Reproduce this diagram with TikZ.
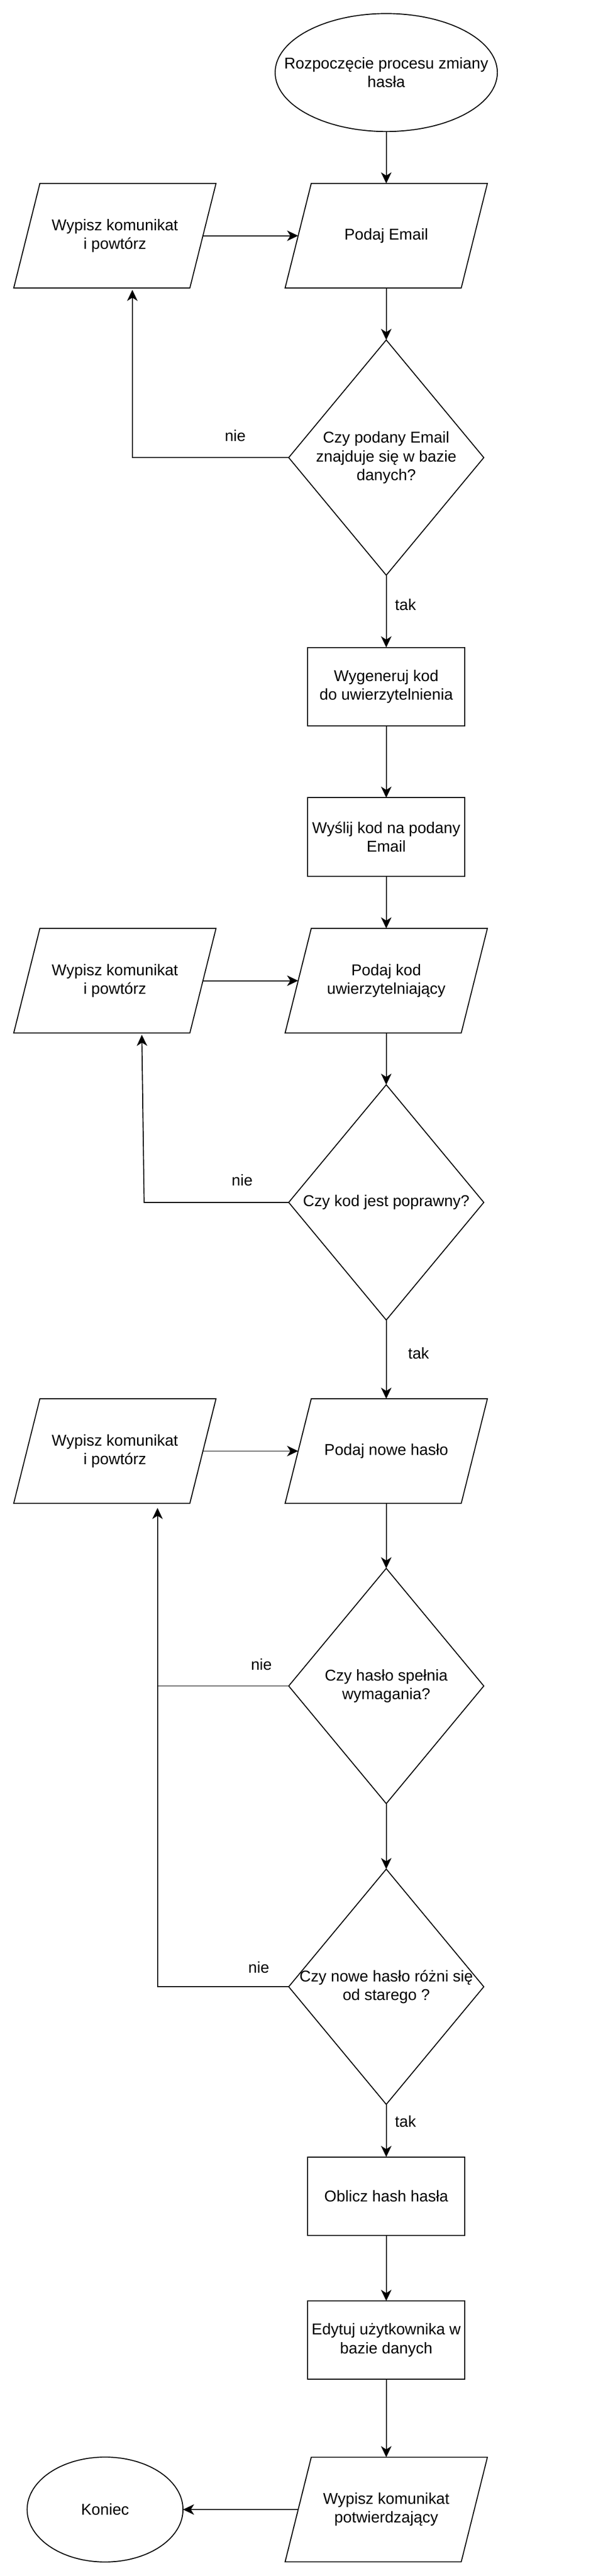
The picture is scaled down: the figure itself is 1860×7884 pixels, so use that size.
\documentclass[tikz,border=0pt]{standalone}
\usepackage{fontspec}
\setmainfont{Liberation Sans}
\usetikzlibrary{arrows.meta}
\tikzset{
  lbl/.style={font=\fontsize{24pt}{28.5pt}\selectfont, align=center, inner sep=0pt, outer sep=0pt},
  parabox/.style={lbl, minimum width=309.5pt, minimum height=160pt},
  diabox/.style={lbl, minimum width=298.5pt, minimum height=360pt},
  procbox/.style={lbl, draw, line width=1.5pt, minimum width=240pt, minimum height=120pt},
  outline/.style={draw, line width=1.5pt, line join=miter},
  conn/.style={line width=1.5pt},
  arr/.style={conn, -{Stealth[length=17pt,width=16pt,inset=5pt]}},
}
\newcommand\paraoutline[1]{\draw[outline] ([xshift=40pt]#1.north west) -- (#1.north east) -- ([xshift=-40pt]#1.south east) -- (#1.south west) -- cycle;}
\newcommand\diaoutline[1]{\draw[outline] (#1.north) -- (#1.east) -- (#1.south) -- (#1.west) -- cycle;}
\begin{document}
\begin{tikzpicture}[x=0.5pt,y=-0.5pt]
\useasboundingbox (0,0) rectangle (1860,7884);

% start
\node[lbl, minimum width=340pt, minimum height=180.5pt] (start) at (1182,222) {Rozpoczęcie procesu zmiany\\hasła};
\draw[outline] (start.center) ellipse [x radius=170pt, y radius=90.25pt];

% first block
\node[parabox] (p1) at (1182,721.5) {Podaj Email};
\paraoutline{p1}
\node[parabox] (w1) at (351.5,721.5) {Wypisz komunikat\\i powtórz};
\paraoutline{w1}
\node[diabox] (d1) at (1182,1400.5) {Czy podany Email\\znajduje się w bazie\\danych?};
\diaoutline{d1}
\node[procbox] (r1) at (1182,2101.5) {Wygeneruj kod\\do uwierzytelnienia};
\node[procbox] (r2) at (1182,2561.5) {Wyślij kod na podany\\Email};

% second block
\node[parabox] (p2) at (1182,3001.5) {Podaj kod\\uwierzytelniający};
\paraoutline{p2}
\node[parabox] (w2) at (351.5,3001.5) {Wypisz komunikat\\i powtórz};
\paraoutline{w2}
\node[diabox] (d2) at (1182,3680) {Czy kod jest poprawny?};
\diaoutline{d2}

% third block
\node[parabox] (p3) at (1182,4441) {Podaj nowe hasło};
\paraoutline{p3}
\node[parabox] (w3) at (351.5,4441) {Wypisz komunikat\\i powtórz};
\paraoutline{w3}
\node[diabox] (d3) at (1182,5160) {Czy hasło spełnia\\wymagania?};
\diaoutline{d3}
\node[diabox] (d4) at (1182,6080.5) {Czy nowe hasło różni się\\od starego ?};
\diaoutline{d4}
\node[procbox] (r3) at (1182,6721.5) {Oblicz hash hasła};
\node[procbox] (r4) at (1182,7162) {Edytuj użytkownika w\\bazie danych};
\node[parabox] (p4) at (1182,7680.5) {Wypisz komunikat\\potwierdzający};
\paraoutline{p4}
\node[lbl, minimum width=238.5pt, minimum height=160.5pt] (end) at (321.5,7680.5) {Koniec};
\draw[outline] (end.center) ellipse [x radius=119.25pt, y radius=80.25pt];

% labels
\node[lbl] (nie1) at (720,1333) {nie};
\node[lbl] (tak1) at (1241,1851) {tak};
\node[lbl] (nie2) at (741,3612) {nie};
\node[lbl] (tak2) at (1281,4142) {tak};
\node[lbl] (nie3) at (800,5094) {nie};
\node[lbl] (nie4) at (792,6021) {nie};
\node[lbl] (tak3) at (1241,6492) {tak};

% main flow
\draw[arr] (start.south) -- (p1.north);
\draw[arr] (p1.south) -- (d1.north);
\draw[arr] (d1.south) -- (r1.north);
\draw[arr] (r1.south) -- (r2.north);
\draw[arr] (r2.south) -- (p2.north);
\draw[arr] (p2.south) -- (d2.north);
\draw[arr] (d2.south) -- (p3.north);
\draw[arr] (p3.south) -- (d3.north);
\draw[arr] (d3.south) -- (d4.north);
\draw[arr] (d4.south) -- (r3.north);
\draw[arr] (r3.south) -- (r4.north);
\draw[arr] (r4.south) -- (p4.north);
\draw[arr] ([xshift=20pt]p4.west) -- (end.east);

% retry arrows
\draw[arr] ([xshift=-20pt]w1.east) -- ([xshift=20pt]p1.west);
\draw[arr] ([xshift=-20pt]w2.east) -- ([xshift=20pt]p2.west);
\draw[arr] ([xshift=-20pt]w3.east) -- ([xshift=20pt]p3.west);

% loops
\coordinate (t1) at (405,887);
\draw[arr] (d1.west) -| (t1);
\coordinate (b2) at (441,3680);
\coordinate (t2) at (434,3167);
\draw[arr] (d2.west) -- (b2) -- (t2);
\coordinate (j3) at (482,5160);
\coordinate (t3) at (482,4615);
\draw[arr] (d3.west) -- (j3) -- (t3);
\draw[conn] (d4.west) -| (j3);
\end{tikzpicture}
\end{document}
